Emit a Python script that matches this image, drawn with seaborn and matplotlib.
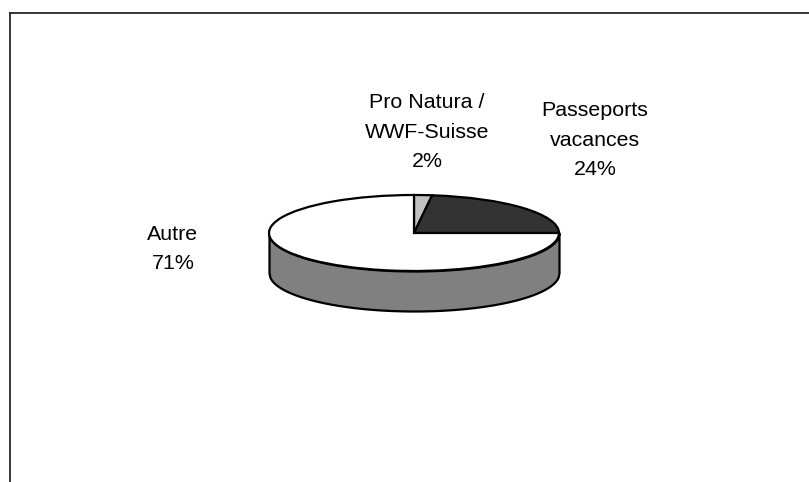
import numpy as np
import seaborn as sns
import matplotlib.pyplot as plt

# parts de chaque secteur, mesurees sur le dessin (sens horaire depuis le haut)
slice_names = ["Pro Natura /\nWWF-Suisse", "Passeports\nvacances", "Autre"]
slice_shares = [2, 23, 75]
slice_labels = ["2%", "24%", "71%"]
slice_colors = ["#c0c0c0", "#333333", "#ffffff"]

W, H = 809, 482
sns.set_theme(style="white")
plt.rcParams['font.family'] = ['Liberation Sans', 'DejaVu Sans']

fig = plt.figure(figsize=(W / 100, H / 100), dpi=100, facecolor="white")

# cadre: seulement gauche et haut sont visibles, le reste est coupe
frame = fig.add_axes([10 / W, 0, (W - 10) / W, (H - 13) / H])
frame.set_xticks([])
frame.set_yticks([])
sns.despine(ax=frame, top=False, right=True, bottom=True)
for side in ["left", "top"]:
    frame.spines[side].set_color("#262626")
    frame.spines[side].set_linewidth(1.3)

# camembert "3D": un pie ecrase plus une paroi
cx, cy, rx, ry, depth = 414, 233, 145, 38, 40
pad = 1.05
depth_u = depth / ry
left = cx - rx * pad
top = cy - ry * pad
ax_w = 2 * rx * pad
ax_h = ry * pad + ry + depth + ry * (pad - 1)
ax = fig.add_axes([left / W, 1 - (top + ax_h) / H, ax_w / W, ax_h / H])
ax.patch.set_alpha(0)

x = np.linspace(-1, 1, 300)
front = -np.sqrt(1 - x ** 2)
ax.fill_between(x, front, front - depth_u, color="#808080", edgecolor="black", linewidth=1.6)

ax.pie(slice_shares, colors=slice_colors, startangle=90, counterclock=False, radius=1,
       wedgeprops=dict(edgecolor="black", linewidth=1.6))
ax.set_aspect("auto")
ax.set_xlim(-pad, pad)
ax.set_ylim(-1 - depth_u - (pad - 1), pad)
ax.set_axis_off()

# etiquettes
label_pos = [(427, 132), (595, 140), (173, 249)]
for name, pct, (px, py) in zip(slice_names, slice_labels, label_pos):
    fig.text(px / W, 1 - py / H, name + "\n" + pct, ha="center", va="center",
             multialignment="center", fontsize=15.4, linespacing=1.68, color="black")

fig.savefig("out.png", dpi=100)
